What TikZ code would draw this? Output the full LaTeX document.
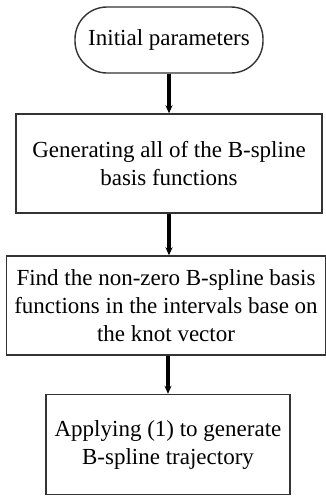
\documentclass[tikz,border=0pt]{standalone}
\usepackage{fontspec}
\setmainfont{Liberation Serif}
\usepackage{tikz}
\usetikzlibrary{arrows.meta}

\tikzset{
  stepbox/.style={draw=black!80, line width=1.4pt, align=center, inner sep=1pt,
    font=\fontsize{23}{28}\selectfont},
  startbox/.style={stepbox, rounded corners=32pt},
  flowarrow/.style={line width=3.2pt, -{Stealth[length=8pt,width=7pt]}}
}

\begin{document}
\begin{tikzpicture}[x=1pt,y=-1pt]
    \useasboundingbox (0,0) rectangle (326,498);
    \node[startbox, minimum width=188pt, minimum height=66pt] (init) at (169,40) {Initial parameters};
    \node[stepbox, minimum width=306pt, minimum height=99pt] (gen) at (169,163.5) {Generating all of the B-spline\\basis functions};
    \node[stepbox, minimum width=319pt, minimum height=99pt] (find) at (166,305.5) {Find the non-zero B-spline basis\\functions in the intervals base on\\the knot vector};
    \node[stepbox, minimum width=244pt, minimum height=100pt] (apply) at (168,444.5) {Applying (1) to generate\\B-spline trajectory};
    \draw[flowarrow] (init) -- (gen);
    \draw[flowarrow] (gen.south) -- (gen.south |- find.north);
    \draw[flowarrow] (find.south -| apply.north) -- (apply.north);
\end{tikzpicture}
\end{document}
